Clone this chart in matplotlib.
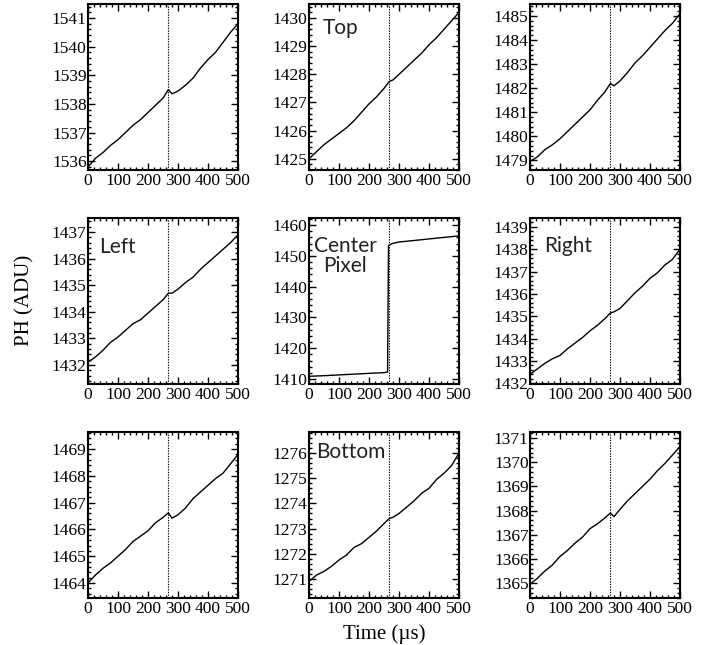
import matplotlib
matplotlib.use("Agg")
import matplotlib.pyplot as plt
from matplotlib.ticker import MultipleLocator

plt.rcParams["font.family"] = "Liberation Serif"

# time samples (microseconds)
t = [0, 25, 50, 75, 100, 125, 150, 175, 200, 225, 250, 268, 280,
     300, 325, 350, 375, 400, 425, 450, 475, 500]
t_center = [0, 50, 100, 150, 200, 250, 262, 265, 275, 285, 300,
            350, 400, 450, 500]
flash_time = 268

# pulse height traces (ADU)
ph_top_left = [1535.8, 1536.1, 1536.3, 1536.55, 1536.75, 1537.0, 1537.25, 1537.45,
               1537.7, 1537.95, 1538.2, 1538.5, 1538.35, 1538.45, 1538.65, 1538.9,
               1539.25, 1539.55, 1539.8, 1540.15, 1540.5, 1540.8]
ph_top = [1425.0, 1425.25, 1425.5, 1425.7, 1425.9, 1426.1, 1426.35, 1426.65,
          1426.95, 1427.2, 1427.5, 1427.75, 1427.8, 1428.0, 1428.25, 1428.5,
          1428.75, 1429.05, 1429.3, 1429.6, 1429.9, 1430.2]
ph_top_right = [1478.95, 1479.15, 1479.45, 1479.65, 1479.9, 1480.2, 1480.5, 1480.8,
                1481.1, 1481.5, 1481.85, 1482.2, 1482.1, 1482.3, 1482.65, 1483.05,
                1483.35, 1483.7, 1484.05, 1484.4, 1484.7, 1485.1]
ph_left = [1432.1, 1432.3, 1432.55, 1432.85, 1433.05, 1433.3, 1433.55, 1433.7,
           1433.95, 1434.2, 1434.45, 1434.7, 1434.7, 1434.85, 1435.1, 1435.3,
           1435.6, 1435.85, 1436.1, 1436.35, 1436.6, 1436.9]
ph_center = [1410.9, 1411.1, 1411.35, 1411.6, 1411.85, 1412.1, 1412.3, 1453.3,
             1453.9, 1454.2, 1454.5, 1455.0, 1455.5, 1456.0, 1456.5]
ph_right = [1432.4, 1432.65, 1432.9, 1433.1, 1433.25, 1433.55, 1433.8, 1434.05,
            1434.35, 1434.6, 1434.9, 1435.15, 1435.2, 1435.35, 1435.7, 1436.05,
            1436.35, 1436.7, 1436.95, 1437.3, 1437.55, 1438.0]
ph_bottom_left = [1464.0, 1464.3, 1464.55, 1464.75, 1465.0, 1465.25, 1465.55, 1465.75,
                  1465.95, 1466.25, 1466.45, 1466.62, 1466.42, 1466.55, 1466.8, 1467.15,
                  1467.4, 1467.65, 1467.9, 1468.1, 1468.45, 1468.8]
ph_bottom = [1270.9, 1271.15, 1271.3, 1271.5, 1271.75, 1271.95, 1272.25, 1272.4,
             1272.65, 1272.9, 1273.2, 1273.4, 1273.45, 1273.6, 1273.85, 1274.1,
             1274.4, 1274.6, 1274.95, 1275.2, 1275.5, 1276.0]
ph_bottom_right = [1364.95, 1365.2, 1365.5, 1365.75, 1366.1, 1366.35, 1366.65, 1366.9,
                   1367.25, 1367.45, 1367.7, 1367.9, 1367.75, 1368.05, 1368.4, 1368.7,
                   1369.0, 1369.3, 1369.65, 1369.95, 1370.3, 1370.65]

# (label, x, y, ylim, major, minor)
panels = [
    ("", t, ph_top_left, (1535.69, 1541.49), 1, 0.2),
    ("Top", t, ph_top, (1424.6, 1430.5), 1, 0.2),
    ("", t, ph_top_right, (1478.6, 1485.5), 1, 0.2),
    ("Left", t, ph_left, (1431.28, 1437.53), 1, 0.2),
    ("Center\nPixel", t_center, ph_center, (1408.4, 1462.3), 10, 2),
    ("Right", t, ph_right, (1431.97, 1439.4), 1, 0.2),
    ("", t, ph_bottom_left, (1463.44, 1469.64), 1, 0.2),
    ("Bottom", t, ph_bottom, (1270.24, 1276.84), 1, 0.2),
    ("", t, ph_bottom_right, (1364.38, 1371.25), 1, 0.2),
]

W, H = 711, 645
col_left = [88, 309, 530]
row_top = [4, 218, 432]
ax_w, ax_h = 150, 166

# label anchor offsets (px from axes top-left)
label_pos = {"Top": (14, 24), "Left": (11, 29), "Center\nPixel": (36, 38),
             "Right": (14, 28), "Bottom": (7, 20)}

fig = plt.figure(figsize=(W / 100, H / 100), dpi=100)

for i, (name, x, y, ylim, major, minor) in enumerate(panels):
    r, c = divmod(i, 3)
    ax = fig.add_axes([col_left[c] / W, 1 - (row_top[r] + ax_h) / H, ax_w / W, ax_h / H])
    ax.plot(x, y, color="black", lw=1.0)
    ax.axvline(flash_time, color="black", lw=0.8, ls=(0, (1.2, 1.2)))
    ax.set_xlim(0, 500)
    ax.set_ylim(*ylim)
    ax.xaxis.set_major_locator(MultipleLocator(100))
    ax.xaxis.set_minor_locator(MultipleLocator(20))
    ax.yaxis.set_major_locator(MultipleLocator(major))
    ax.yaxis.set_minor_locator(MultipleLocator(minor))
    ax.tick_params(which="both", direction="in", top=True, right=True, width=1.0,
                   labelsize=12.5)
    ax.tick_params(axis="x", pad=2.5)
    ax.tick_params(axis="y", pad=1)
    ax.tick_params(which="major", length=5)
    ax.tick_params(which="minor", length=2.5)
    for s in ax.spines.values():
        s.set_linewidth(1.5)
    if name:
        dx, dy = label_pos[name]
        ha = "center" if "\n" in name else "left"
        ax.text(dx / ax_w, 1 - dy / ax_h, name, transform=ax.transAxes,
                ha=ha, va="center", fontsize=15, family="Lato", color="#222222",
                linespacing=1.0)

fig.text(25 / W, 1 - 300 / H, "PH (ADU)", rotation=90, ha="center", va="center",
         fontsize=15)
fig.text(384 / W, 1 - 634 / H, "Time (\u00b5s)", ha="center", va="center",
         fontsize=15)

fig.savefig("out.png", dpi=100)
